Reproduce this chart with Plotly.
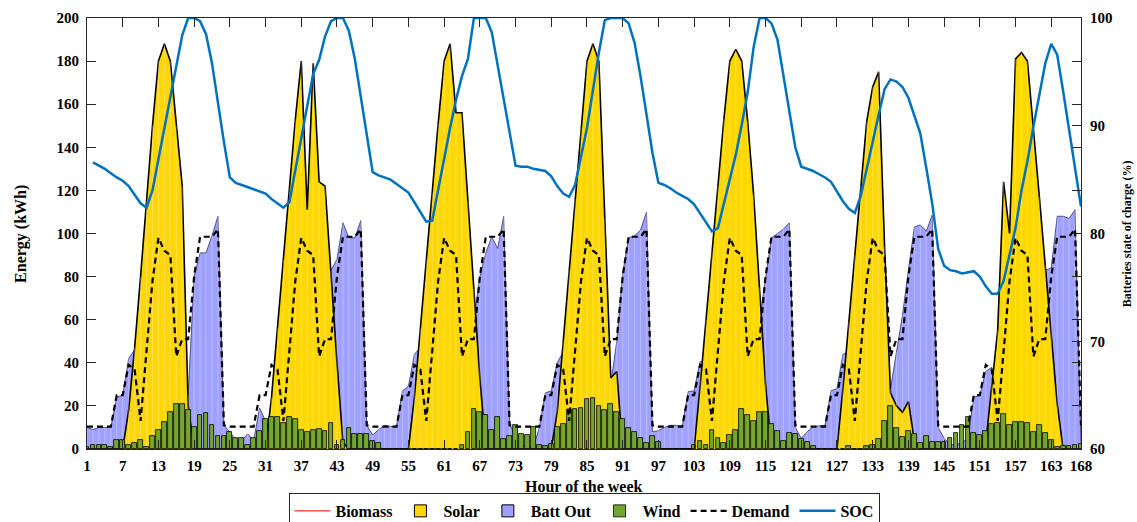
import plotly.graph_objects as go

# Hourly energy balance over one week (hour 1 .. 168)
hours = list(range(1, 169))

solar = [
    0, 0, 0, 0, 0, 0, 0, 18, 47, 80, 115, 150, 180, 188, 180, 150, 122, 20, 0, 0, 0, 0, 0, 0,
    0, 0, 0, 0, 0, 0, 0, 24, 56, 88, 121, 153, 180, 111, 179, 124, 122, 80, 40, 3, 0, 0, 0, 0,
    0, 0, 0, 0, 0, 0, 0, 24, 56, 88, 119, 151, 180, 188, 156, 156, 115, 74, 33, 0, 0, 0, 0, 0,
    0, 0, 0, 0, 0, 0, 0, 17, 50, 83, 116, 149, 180, 188, 180, 107, 33, 36, 0, 0, 0, 0, 0, 0,
    0, 0, 0, 0, 0, 0, 0, 29, 60, 92, 122, 153, 180, 185.5, 180, 152, 118, 75, 30, 0, 0, 0, 0, 0,
    0, 0, 0, 0, 0, 0, 0, 28, 59, 90, 122, 152, 168, 175, 94, 26, 20, 17, 22, 4, 0, 0, 0, 0,
    0, 0, 0, 0, 0, 0, 0, 3, 30, 55, 124, 100, 181, 184, 180, 150, 117, 85, 54, 21, 0, 0, 0, 0,
]

batt_out = [
    10, 9, 10, 10, 10, 24, 25, 42, 46, 0, 0, 0, 0, 0, 0, 0, 0, 25, 80, 91, 91, 99, 108, 11,
    8, 4, 4, 7, 4, 19, 13, 5, 0, 0, 0, 0, 0, 0, 0, 0, 0, 83, 88, 105, 98, 98, 106, 11,
    6.5, 9, 11, 10.5, 10.5, 27, 29, 44, 47, 0, 0, 0, 0, 0, 0, 0, 0, 60, 80, 91, 98.5, 93, 108, 12,
    5, 2, 1, 1, 10, 26, 27, 40, 45, 0, 0, 0, 0, 0, 0, 0, 30, 50, 81.5, 98, 99, 101.6, 110, 8,
    8.5, 10, 11, 11, 10.5, 26.6, 27, 40.5, 41, 0, 0, 0, 0, 0, 0, 0, 0, 60, 80, 98, 100, 102, 105, 10,
    5, 8, 10.4, 10.7, 11, 27, 28, 44, 45, 0, 0, 0, 0, 0, 0, 28, 45, 62, 83, 103, 104, 101, 108.6, 10,
    5, 2, 2, 3, 5, 24, 25, 36, 38, 0, 0, 0, 0, 0, 0, 0, 0, 83, 84, 108, 108, 107, 111, 2,
]

wind = [
    1, 2, 2, 2, 1, 4, 4, 2, 3, 4, 1, 6, 9, 12.5, 17, 21, 21, 18, 10, 16, 16.5, 11, 6, 6,
    8, 5, 5, 2, 5, 8.5, 14, 15, 15, 12, 15, 14, 9, 8, 9, 9.5, 8.5, 12, 2, 4, 9.6, 7, 7, 7,
    3.5, 2.6, 0, 0, 0, 0, 0, 0, 0, 0, 0, 0, 0, 0, 0, 2, 8, 18.7, 17, 16, 9, 15, 4.5, 6,
    11, 7, 6.5, 10, 2, 1.5, 2.3, 10, 11.4, 18, 18.6, 19, 23, 23.5, 20, 18, 20.7, 17, 14, 9.6, 8, 5, 3, 6,
    3.4, 0, 0, 0, 0, 0, 2, 3.7, 2, 9, 5, 3, 6.3, 9, 18.4, 15.8, 13, 17.3, 17, 11.6, 8.5, 3.7, 7.6, 7,
    4.5, 3.4, 1.4, 0, 0, 0, 0, 0, 1.4, 0, 0, 1.5, 1.9, 4.5, 13, 20, 9.6, 5.4, 8.5, 6.8, 3, 6, 3.2, 3.2,
    3.1, 5, 7.3, 11, 14.7, 7.3, 6.5, 8.5, 11.4, 11.9, 16.2, 11, 12.6, 12.6, 11.9, 8, 11, 7.3, 4.2, 1.1, 1.4, 1.4, 1.9, 2.2,
]

demand = [
    10.4, 10.4, 10.4, 10.4, 10.4, 25, 25, 39, 37, 13, 45, 78, 98, 92, 90, 43, 51, 51, 80, 98.5, 98.5, 98.5, 102, 11,
    10.4, 10.4, 10.4, 10.4, 10.4, 25, 25, 39, 37, 13, 45, 78, 98, 92, 90, 43, 51, 51, 80, 98.5, 98.5, 98.5, 102, 11,
    10.4, 10.4, 10.4, 10.4, 10.4, 25, 25, 39, 37, 13, 45, 78, 98, 92, 90, 43, 51, 51, 80, 98.5, 98.5, 98.5, 102, 11,
    10.4, 10.4, 10.4, 10.4, 10.4, 25, 25, 39, 37, 13, 45, 78, 98, 92, 90, 43, 51, 51, 80, 98.5, 98.5, 98.5, 102, 11,
    10.4, 10.4, 10.4, 10.4, 10.4, 25, 25, 39, 37, 13, 45, 78, 98, 92, 90, 43, 51, 51, 80, 98.5, 98.5, 98.5, 102, 11,
    10.4, 10.4, 10.4, 10.4, 10.4, 25, 25, 39, 37, 13, 45, 78, 98, 92, 90, 43, 51, 51, 80, 98.5, 98.5, 98.5, 102, 11,
    10.4, 10.4, 10.4, 10.4, 10.4, 25, 25, 39, 37, 13, 45, 78, 98, 92, 90, 43, 51, 51, 80, 98.5, 98.5, 98.5, 102, 11,
]

soc = [
    None, 86.6, 86.3, 86.0, 85.6, 85.2, 84.9, 84.4, 83.6, 82.8, 82.4, 84.0, 86.9, 89.8, 92.7, 95.5, 98.4, 100, 100, 99.7, 98.5, 95.8, 92.0, 88.5,
    85.2, 84.7, 84.5, 84.3, 84.1, 83.9, 83.7, 83.2, 82.8, 82.4, 82.9, 85.8, 88.7, 91.6, 94.8, 96.1, 98.3, 99.7, 100, 100, 98.8, 96.2, 92.7, 89.1,
    85.7, 85.4, 85.2, 85.0, 84.6, 84.2, 83.8, 82.9, 82.0, 81.1, 81.2, 84.1, 87.0, 89.8, 92.4, 94.6, 96.2, 100, 100, 100, 98.7, 95.5, 92.4, 89.1,
    86.3, 86.2, 86.2, 86.0, 85.9, 85.8, 85.3, 84.4, 83.7, 83.4, 84.5, 87.2, 89.8, 93.3, 96.8, 99.8, 100, 100, 100, 99.5, 97.7, 94.6, 91.0, 87.5,
    84.7, 84.5, 84.2, 83.8, 83.5, 83.2, 82.7, 81.9, 81.0, 80.2, 80.5, 82.7, 85.0, 87.3, 90.1, 93.1, 97.3, 100, 100, 99.5, 98.0, 94.6, 91.2, 88.0,
    86.2, 86.0, 85.8, 85.5, 85.2, 84.8, 83.9, 83.0, 82.3, 81.9, 83.5, 86.1, 88.5, 91.0, 93.4, 94.3, 94.1, 93.6, 92.6, 91.0, 89.3, 86.1, 82.8, 78.6,
    77.0, 76.6, 76.5, 76.3, 76.4, 76.5, 76.0, 75.1, 74.4, 74.4, 75.6, 78.0, 80.5, 84.0, 86.7, 89.9, 92.9, 95.8, 97.6, 96.6, 93.2, 89.6, 86.0, 82.5,
]

biomass = [0] * 168

x_tick_vals = [1, 7, 13, 19, 25, 31, 37, 43, 49, 55, 61, 67, 73, 79, 85, 91, 97, 103,
               109, 115, 121, 127, 133, 139, 145, 151, 157, 163, 168]
x_tick_text = [str(v) for v in x_tick_vals]
soc_ticks = [60, 70, 80, 90, 100]

FONT = "Liberation Serif"
AX = "#262626"
SOLAR_C = "#FFD700"
BATT_C = "#A0A0FF"
WIND_C = "#72A830"

fig = go.Figure()

fig.add_trace(go.Scatter(
    x=hours, y=biomass, name="Biomass", mode="lines",
    line=dict(color="#FF0000", width=1), legendrank=1, yaxis="y"))

fig.add_trace(go.Scatter(
    x=hours, y=batt_out, name="Batt Out", mode="lines", fill="tozeroy",
    fillcolor=BATT_C, line=dict(color="#30306A", width=0.8),
    showlegend=False, yaxis="y"))

fig.add_trace(go.Scatter(
    x=hours, y=solar, name="Solar", mode="lines", fill="tozeroy",
    fillcolor=SOLAR_C, line=dict(color="black", width=1.6),
    showlegend=False, yaxis="y"))

# faint hourly strokes inside the filled areas
hx, hy = [], []
for h, s, b in zip(hours, solar, batt_out):
    top = max(s, b)
    if top > 0:
        hx += [h, h, None]
        hy += [0, top, None]
fig.add_trace(go.Scatter(
    x=hx, y=hy, mode="lines", line=dict(color="rgba(255,255,255,0.35)", width=0.8),
    showlegend=False, hoverinfo="skip", yaxis="y"))

# box-shaped legend keys for the filled series
for nm, col, rank in [("Solar", SOLAR_C, 2), ("Batt Out", BATT_C, 3)]:
    fig.add_trace(go.Bar(
        x=[None], y=[None], name=nm, legendrank=rank,
        marker=dict(color=col, line=dict(color="black", width=1)), yaxis="y"))

fig.add_trace(go.Bar(
    x=hours, y=wind, name="Wind", width=0.8,
    marker=dict(color=WIND_C, line=dict(color="black", width=0.8)),
    legendrank=4, yaxis="y2"))

fig.add_trace(go.Scatter(
    x=hours, y=demand, name="Demand", mode="lines",
    line=dict(color="black", width=2.2, dash="6px,4px"),
    legendrank=5, yaxis="y2"))

fig.add_trace(go.Scatter(
    x=hours, y=soc, name="SOC", mode="lines",
    line=dict(color="#0072BD", width=2.5),
    legendrank=6, yaxis="y3"))

tick_font = dict(family=FONT, size=15, color="black", weight="bold")

fig.update_layout(
    width=1137, height=522,
    margin=dict(l=87, r=56, t=18, b=73, autoexpand=False),
    paper_bgcolor="white", plot_bgcolor="white",
    bargap=0,
    showlegend=True,
    xaxis=dict(
        range=[1, 168], tickvals=x_tick_vals, ticktext=x_tick_text,
        ticks="inside", ticklen=9, tickcolor=AX, tickwidth=1,
        showline=True, linecolor=AX, linewidth=1, mirror="ticks",
        showgrid=False, zeroline=False, tickfont=tick_font,
        ticklabelstandoff=3, layer="above traces"),
    yaxis=dict(
        range=[0, 200], dtick=20, tick0=0,
        ticks="inside", ticklen=9, tickcolor=AX, tickwidth=1,
        showline=True, linecolor=AX, linewidth=1, mirror="ticks",
        showgrid=False, zeroline=False, tickfont=tick_font,
        ticklabelstandoff=4, layer="above traces"),
    yaxis2=dict(range=[0, 200], overlaying="y", visible=False),
    yaxis3=dict(
        range=[60, 100], overlaying="y", side="right",
        tickvals=soc_ticks, ticks="inside", ticklen=9, tickcolor=AX,
        showline=True, linecolor=AX, linewidth=1,
        showgrid=False, zeroline=False, tickfont=tick_font,
        ticklabelstandoff=5),
    legend=dict(
        orientation="h", x=0.5, xanchor="center", y=-0.102, yanchor="top",
        bordercolor=AX, borderwidth=1, bgcolor="white",
        font=dict(family=FONT, size=16, color="black", weight="bold"),
        itemwidth=36, tracegroupgap=0),
    annotations=[
        dict(text="<b>Energy (kWh)</b>", xref="paper", yref="paper",
             x=-0.067, y=0.5, xanchor="center", yanchor="middle",
             textangle=-90, showarrow=False,
             font=dict(family=FONT, size=16, color="black")),
        dict(text="<b>Batteries state of charge (%)</b>", xref="paper", yref="paper",
             x=1.046, y=0.5, xanchor="center", yanchor="middle",
             textangle=-90, showarrow=False,
             font=dict(family=FONT, size=12, color="black")),
        dict(text="<b>Hour of the week</b>", xref="paper", yref="paper",
             x=0.5, y=-0.086, xanchor="center", yanchor="middle",
             showarrow=False,
             font=dict(family=FONT, size=16, color="black")),
    ],
)

fig.write_html("out.html")
